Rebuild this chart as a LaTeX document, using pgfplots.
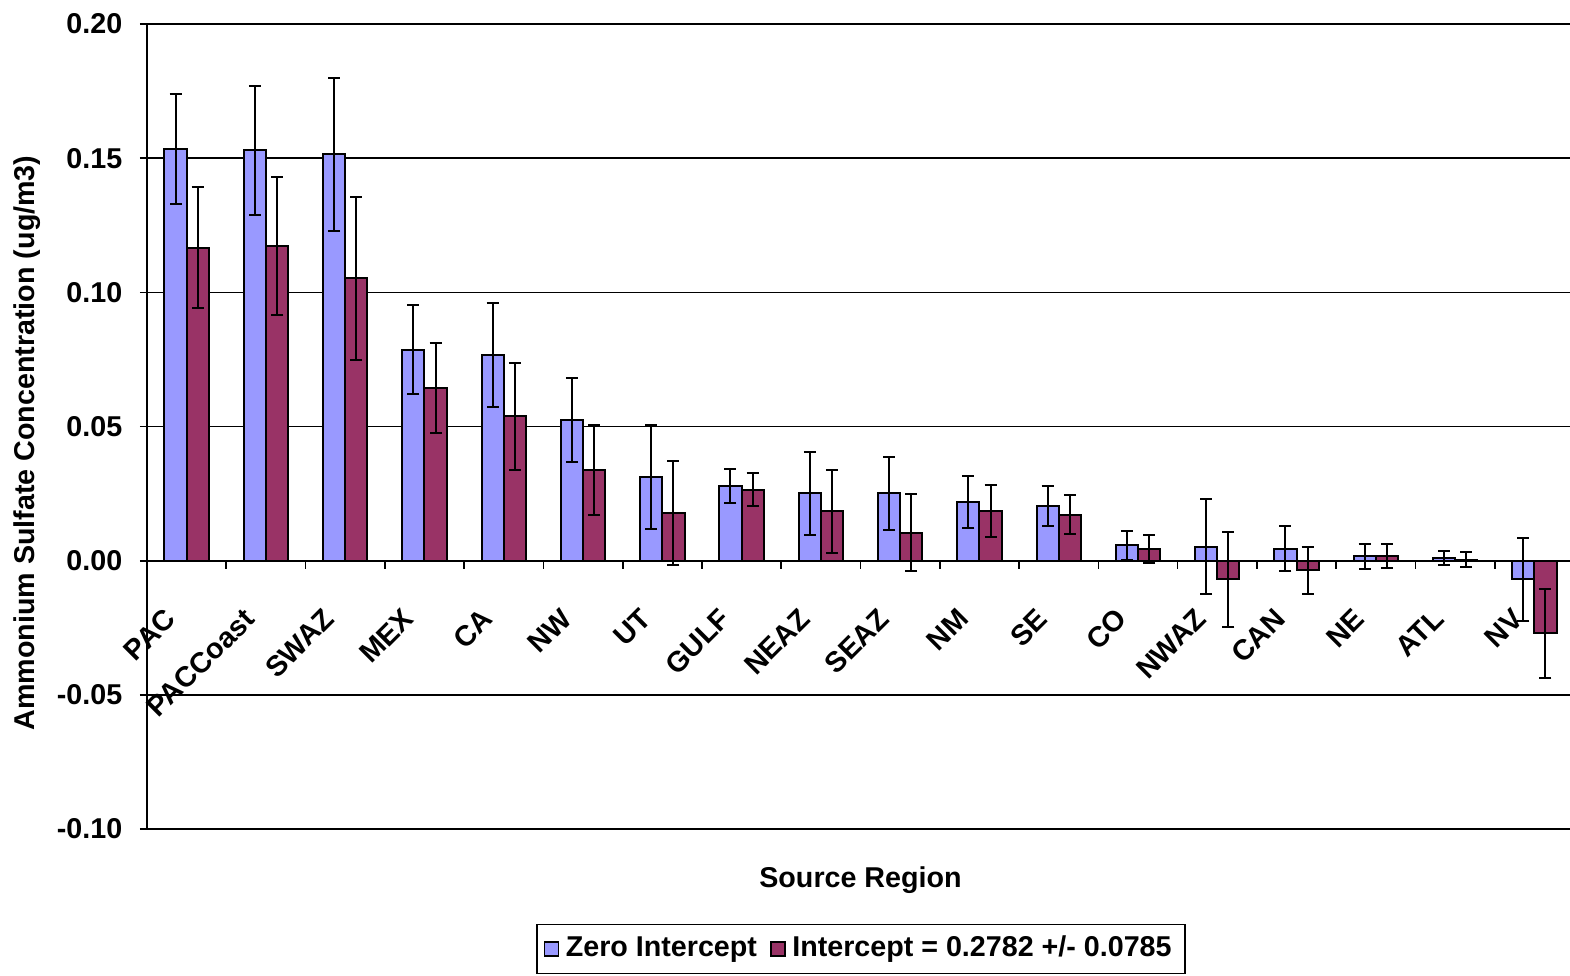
\documentclass[border=0pt]{standalone}
\usepackage{fontspec}
\setmainfont{Liberation Sans}
\usepackage{pgfplots}
\usepackage{pgfplotstable}
\pgfplotsset{compat=1.18}

\definecolor{zerobar}{HTML}{9999FF}
\definecolor{intbar}{HTML}{993366}

% idx, zero intercept (value, error), intercept (value, error)
\pgfplotstableread{
x  zv      ze      iv      ie
0  0.1534  0.0205  0.1167  0.0224
1  0.1529  0.0241  0.1173  0.0258
2  0.1514  0.0285  0.1053  0.0304
3  0.0786  0.0165  0.0644  0.0167
4  0.0766  0.0194  0.0538  0.0200
5  0.0525  0.0157  0.0338  0.0167
6  0.0312  0.0194  0.0178  0.0194
7  0.0279  0.0063  0.0265  0.0063
8  0.0251  0.0154  0.0184  0.0154
9  0.0251  0.0137  0.0104  0.0143
10 0.0219  0.0098  0.0184  0.0097
11 0.0205  0.0074  0.0172  0.0074
12 0.0057  0.0054  0.0044  0.0053
13 0.0051  0.0177 -0.0070  0.0177
14 0.0044  0.0084 -0.0036  0.0088
15 0.0016  0.0047  0.0016  0.0045
16 0.0010  0.0027  0.0004  0.0027
17 -0.0070 0.0155 -0.0271  0.0165
}\regions

\newcommand{\chartfont}{\fontsize{8.6}{10}\selectfont\bfseries}

\begin{document}
\begin{tikzpicture}
\begin{axis}[
  scale only axis, width=428.1pt, height=241.5pt,
  ybar=0pt, bar width=0.28,
  xmin=-0.5, xmax=17.5, ymin=-0.10, ymax=0.20,
  axis x line=middle, axis y line=left,
  axis line style={-, black, line width=0.5pt},
  hide obscured x ticks=false, hide obscured y ticks=false,
  xtick={0,...,17},
  xticklabels={PAC,PACCoast,SWAZ,MEX,CA,NW,UT,GULF,NEAZ,SEAZ,NM,SE,CO,NWAZ,CAN,NE,ATL,NV},
  major x tick style={draw=none},
  minor xtick={0.5,1.5,...,16.5},
  minor x tick style={black, line width=0.5pt},
  xtick align=outside, minor tick length=2.4pt,
  xticklabel style={font=\chartfont, xshift=-2.4pt, rotate=45, anchor=east},
  xticklabel shift=11.4pt,
  ytick={-0.1,-0.05,0,0.05,0.1,0.15,0.2},
  ytick align=outside, major tick length=2.1pt,
  ytick style={black, line width=0.5pt},
  yticklabel shift=1.8pt,
  yticklabel style={font=\chartfont, /pgf/number format/.cd, fixed, fixed zerofill, precision=2, assume math mode=true},
  ymajorgrids, grid style={black, line width=0.5pt},
  xlabel={Source Region},
  xlabel style={font=\chartfont, at={(axis description cs:0.5,-0.063)}, anchor=center},
  ylabel={Ammonium Sulfate Concentration (ug/m3)},
  ylabel style={font=\chartfont, at={(axis description cs:-0.0841,0.4795)}, anchor=center},
  legend style={font=\chartfont, at={(axis description cs:0.5004,-0.149)}, anchor=center,
    legend columns=-1, draw=black, line width=0.5pt, inner ysep=1.5pt, inner xsep=2pt,
    /tikz/every even column/.append style={column sep=2pt}},
  legend image code/.code={\draw[#1, draw=black, line width=0.4pt] (0pt,-2.1pt) rectangle (4.2pt,2.1pt);},
  error bars/error bar style={black, line width=0.6pt},
  error bars/error mark options={rotate=90, mark size=1.8pt, black, line width=0.6pt},
]
\addplot[fill=zerobar, draw=black, line width=0.6pt,
  error bars/.cd, y dir=both, y explicit]
  table[x=x, y=zv, y error=ze] {\regions};
\addlegendentry{Zero Intercept}
\addplot[fill=intbar, draw=black, line width=0.6pt,
  error bars/.cd, y dir=both, y explicit]
  table[x=x, y=iv, y error=ie] {\regions};
\addlegendentry{Intercept = 0.2782 +/- 0.0785}
\coordinate (bl) at (rel axis cs:0,0);
\end{axis}
\pgfresetboundingbox
\path ([shift={(-44.1pt,-43.8pt)}]bl) rectangle ([shift={(426.9pt,248.7pt)}]bl);
\end{tikzpicture}
\end{document}
